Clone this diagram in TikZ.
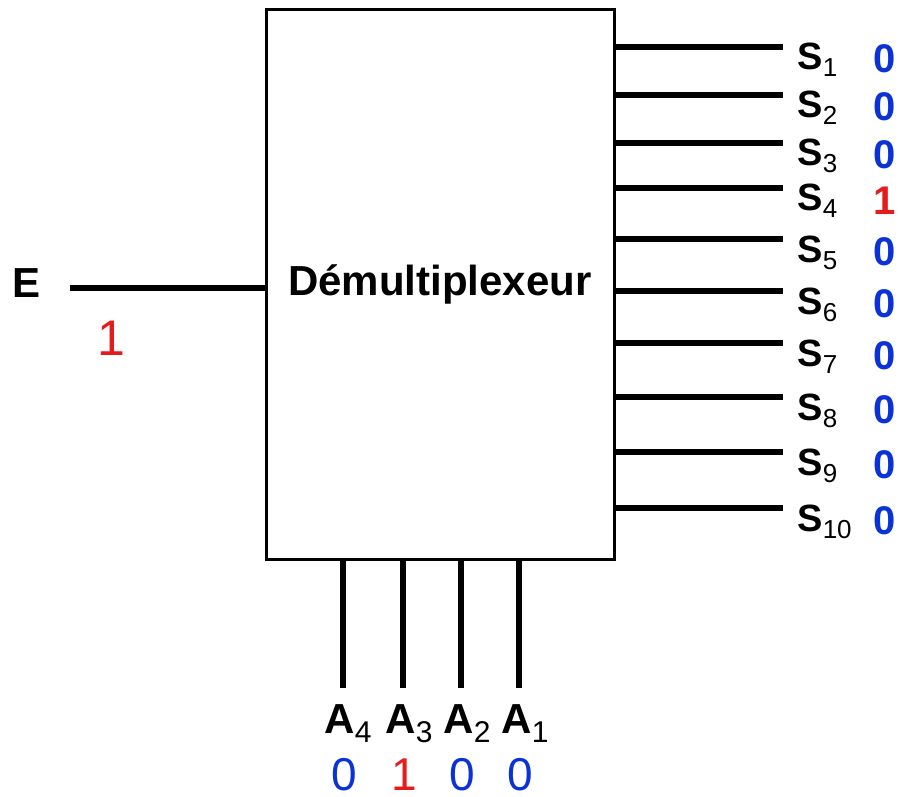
\documentclass[tikz,border=0pt]{standalone}
\usepackage{fontspec}
\setmainfont{Liberation Sans}
\usepackage{xcolor}
\usetikzlibrary{positioning}
\definecolor{bitblue}{RGB}{10,50,215}
\definecolor{bitred}{RGB}{228,28,28}
\newcommand{\ssub}[1]{\raisebox{-3.5pt}{\fontsize{13}{13}\selectfont\mdseries #1}}
\newcommand{\asub}[1]{\raisebox{-4.5pt}{\fontsize{15}{15}\selectfont\mdseries #1}}
\tikzset{
    wire/.style={line width=2.6pt, line cap=butt},
    outlbl/.style={anchor=base west, inner sep=0pt, font=\fontsize{19}{19}\selectfont\bfseries},
    addrlbl/.style={anchor=base, inner sep=0pt, font=\fontsize{21}{21}\selectfont\bfseries},
    bitval/.style={anchor=base, inner sep=0pt, text=#1, font=\fontsize{20}{20}\selectfont\bfseries},
    addrval/.style={anchor=base, inner sep=0pt, text=#1, font=\fontsize{23}{23}\selectfont}
}

\begin{document}
\begin{tikzpicture}[x=0.5pt, y=-0.5pt]
\useasboundingbox (0,0) rectangle (900,797);

\node[draw, line width=1.5pt, minimum width=174pt, minimum height=274.5pt, inner sep=0pt,
      font=\fontsize{21}{21}\selectfont\bfseries] (demux) at (440,284.5) {Démultiplexeur};

% entree
\node[anchor=base west, inner sep=0pt, font=\fontsize{21}{21}\selectfont\bfseries] (e) at (12,297) {E};
\coordinate (ein) at (70,288);
\draw[wire] (ein) -- (demux.west |- ein);
\node[addrval=bitred, font=\fontsize{25}{25}\selectfont] (ev) at (111,355) {1};

% sorties
\coordinate (s1) at (783,47);
\draw[wire] (demux.east |- s1) -- (s1);
\node[outlbl] (ls1) at (797,70) {S\ssub{1}};
\node[bitval=bitblue] (vs1) at (885,73) {0};

\coordinate (s2) at (783,95);
\draw[wire] (demux.east |- s2) -- (s2);
\node[outlbl] (ls2) at (797,118) {S\ssub{2}};
\node[bitval=bitblue] (vs2) at (885,121) {0};

\coordinate (s3) at (783,143);
\draw[wire] (demux.east |- s3) -- (s3);
\node[outlbl] (ls3) at (797,166) {S\ssub{3}};
\node[bitval=bitblue] (vs3) at (885,169) {0};

\coordinate (s4) at (783,188);
\draw[wire] (demux.east |- s4) -- (s4);
\node[outlbl] (ls4) at (797,211) {S\ssub{4}};
\node[bitval=bitred] (vs4) at (885,214) {1};

\coordinate (s5) at (783,239);
\draw[wire] (demux.east |- s5) -- (s5);
\node[outlbl] (ls5) at (797,262) {S\ssub{5}};
\node[bitval=bitblue] (vs5) at (885,265) {0};

\coordinate (s6) at (783,291);
\draw[wire] (demux.east |- s6) -- (s6);
\node[outlbl] (ls6) at (797,314) {S\ssub{6}};
\node[bitval=bitblue] (vs6) at (885,317) {0};

\coordinate (s7) at (783,343);
\draw[wire] (demux.east |- s7) -- (s7);
\node[outlbl] (ls7) at (797,366) {S\ssub{7}};
\node[bitval=bitblue] (vs7) at (885,369) {0};

\coordinate (s8) at (783,397);
\draw[wire] (demux.east |- s8) -- (s8);
\node[outlbl] (ls8) at (797,420) {S\ssub{8}};
\node[bitval=bitblue] (vs8) at (885,423) {0};

\coordinate (s9) at (783,452);
\draw[wire] (demux.east |- s9) -- (s9);
\node[outlbl] (ls9) at (797,475) {S\ssub{9}};
\node[bitval=bitblue] (vs9) at (885,478) {0};

\coordinate (s10) at (783,508);
\draw[wire] (demux.east |- s10) -- (s10);
\node[outlbl] (ls10) at (797,531) {S\ssub{10}};
\node[bitval=bitblue] (vs10) at (885,534) {0};

% adresses
\coordinate (a4) at (343,688);
\draw[wire] (demux.south -| a4) -- (a4);
\node[addrlbl] (la4) at (348,733) {A\asub{4}};
\node[addrval=bitblue] (va4) at (344,790) {0};

\coordinate (a3) at (403,688);
\draw[wire] (demux.south -| a3) -- (a3);
\node[addrlbl] (la3) at (409,733) {A\asub{3}};
\node[addrval=bitred] (va3) at (404,790) {1};

\coordinate (a2) at (461,688);
\draw[wire] (demux.south -| a2) -- (a2);
\node[addrlbl] (la2) at (467,733) {A\asub{2}};
\node[addrval=bitblue] (va2) at (462,790) {0};

\coordinate (a1) at (519,688);
\draw[wire] (demux.south -| a1) -- (a1);
\node[addrlbl] (la1) at (525,733) {A\asub{1}};
\node[addrval=bitblue] (va1) at (520,790) {0};

\end{tikzpicture}
\end{document}
